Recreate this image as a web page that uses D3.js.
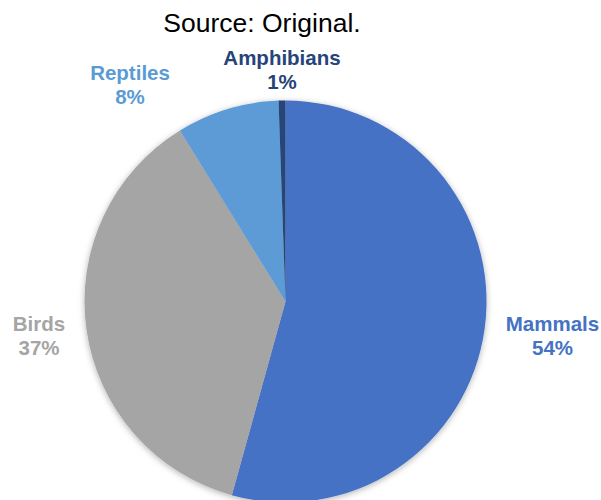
<!DOCTYPE html>
<html>
<head>
<meta charset="utf-8">
<script src="https://cdn.jsdelivr.net/npm/d3@7"></script>
<style>
  html, body { margin: 0; padding: 0; background: #fff; }
  svg { display: block; }
</style>
</head>
<body>
<svg id="chart" width="601" height="500"></svg>
<script>
// Share of species by class (percent)
const categories = ["Mammals", "Birds", "Reptiles", "Amphibians"];
const shares = [54.3, 36.9, 8.25, 0.55];
const colors = ["#4472C4", "#A5A5A5", "#5B9BD5", "#264478"];
const titleText = "Source: Original.";

// Label anchors (centre x, baseline of first line), one per category
const labelLayout = [
  { x: 552.5, y: 331 },
  { x: 39, y: 331 },
  { x: 130, y: 79.5 },
  { x: 282, y: 65 }
];

const width = 601, height = 500;
const cx = 285.5, cy = 301.5, radius = 201;

const svg = d3.select("#chart");

// soft shadow around the pie
const defs = svg.append("defs");
const filt = defs.append("filter")
  .attr("id", "pieShadow")
  .attr("x", "-20%").attr("y", "-20%")
  .attr("width", "140%").attr("height", "140%");
filt.append("feDropShadow")
  .attr("dx", 0).attr("dy", 1.5)
  .attr("stdDeviation", 3)
  .attr("flood-color", "#000")
  .attr("flood-opacity", 0.3);

const data = categories.map((c, i) => ({ name: c, value: shares[i], color: colors[i] }));
const total = d3.sum(shares);

const pie = d3.pie()
  .value(d => d.value)
  .sort(null)
  .startAngle(0)
  .endAngle(2 * Math.PI);

const arc = d3.arc().innerRadius(0).outerRadius(radius);

const g = svg.append("g")
  .attr("transform", `translate(${cx},${cy})`)
  .attr("filter", "url(#pieShadow)");

g.selectAll("path")
  .data(pie(data))
  .join("path")
  .attr("d", arc)
  .attr("fill", d => d.data.color);

// title
svg.append("text")
  .attr("x", 262)
  .attr("y", 32.3)
  .attr("text-anchor", "middle")
  .attr("font-family", "'Liberation Sans', Arial, sans-serif")
  .attr("font-size", 26.5)
  .attr("fill", "#000")
  .text(titleText);

// category labels with percentages
const lineGap = 24;
const labels = svg.append("g")
  .attr("font-family", "'Liberation Sans', Arial, sans-serif")
  .attr("font-weight", "bold")
  .attr("font-size", 20.5)
  .attr("text-anchor", "middle");

data.forEach((d, i) => {
  const pos = labelLayout[i];
  const t = labels.append("text")
    .attr("x", pos.x)
    .attr("y", pos.y)
    .attr("fill", d.color);
  t.append("tspan").attr("x", pos.x).attr("y", pos.y).text(d.name);
  t.append("tspan").attr("x", pos.x).attr("y", pos.y + lineGap)
    .text(Math.round(d.value / total * 100) + "%");
});
</script>
</body>
</html>
